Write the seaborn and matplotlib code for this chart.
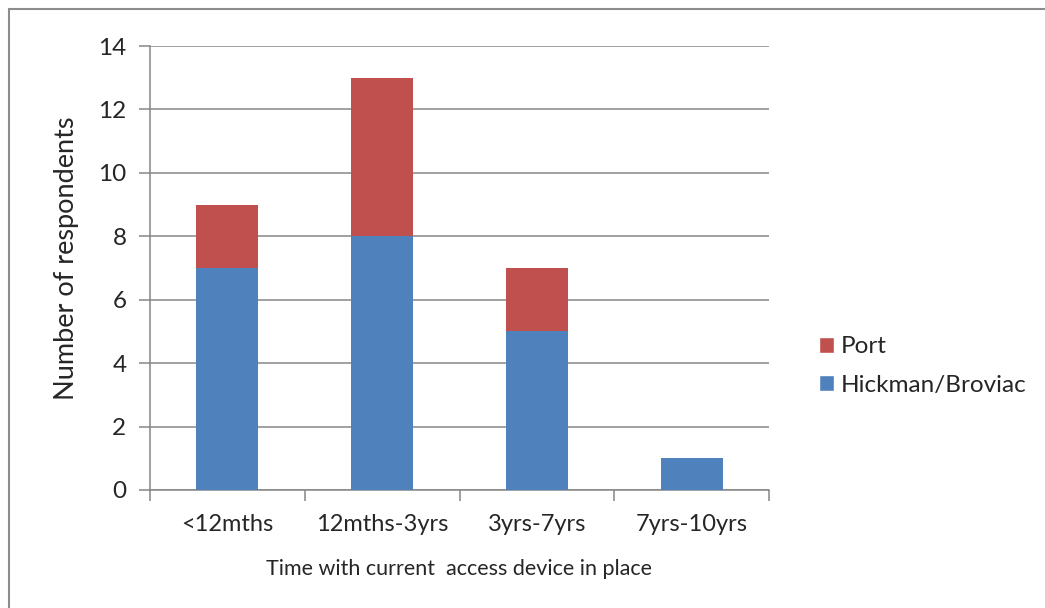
import matplotlib
matplotlib.use("Agg")
import matplotlib.pyplot as plt
from matplotlib.lines import Line2D
from matplotlib.patches import Patch
import seaborn as sns
import pandas as pd

categories = ["<12mths", "12mths-3yrs", "3yrs-7yrs", "7yrs-10yrs"]
hickman = [7, 8, 5, 1]
port = [2, 5, 2, 0]
y_ticks = [0, 2, 4, 6, 8, 10, 12, 14]

BLUE = "#4F81BD"
RED = "#C0504D"
GRID = "#868686"

sns.set_style("white")
plt.rcParams["font.family"] = ["Lato", "DejaVu Sans"]

df = pd.DataFrame({
    "category": categories,
    "Hickman/Broviac": hickman,
    "Port": port,
})
df["total"] = df["Hickman/Broviac"] + df["Port"]

fig = plt.figure(figsize=(10.45, 6.08), dpi=100)
ax = fig.add_axes([150 / 1045, 1 - 490 / 608, (769 - 150) / 1045, (490 - 46) / 608])

# stacked bars: full height in the top segment colour, lower segment drawn over it
sns.barplot(data=df, x="category", y="total", color=RED, width=0.4,
            saturation=1, linewidth=0, ax=ax, zorder=3)
sns.barplot(data=df, x="category", y="Hickman/Broviac", color=BLUE, width=0.4,
            saturation=1, linewidth=0, ax=ax, zorder=4)

ax.set_xlim(-0.5, len(categories) - 0.5)
ax.set_ylim(0, 14)
ax.set_yticks(y_ticks)
ax.yaxis.grid(True, color=GRID, linewidth=1.1, zorder=0)
ax.set_axisbelow(True)

for side in ("top", "right"):
    ax.spines[side].set_visible(False)
for side in ("left", "bottom"):
    ax.spines[side].set_color(GRID)
    ax.spines[side].set_linewidth(1.1)

ax.tick_params(axis="y", length=8, width=1.1, color=GRID, direction="out",
               labelsize=17.5, pad=9, left=True)
ax.set_xticks(range(len(categories)))
ax.set_xticklabels(categories)
ax.tick_params(axis="x", which="major", length=0, labelsize=17, pad=17)
ax.set_xticks([i - 0.5 for i in range(len(categories) + 1)], minor=True)
ax.tick_params(axis="x", which="minor", length=8, width=1.1, color=GRID,
               direction="out", bottom=True)

ax.set_xlabel("Time with current  access device in place", fontsize=15.5, va="center")
ax.xaxis.set_label_coords(0.5, (490 - 569) / 444)
ax.set_ylabel("Number of respondents", fontsize=19.5, va="center")
ax.yaxis.set_label_coords((67 - 150) / 619, (490 - 258) / 444)

handles = [Patch(facecolor=RED, label="Port"),
           Patch(facecolor=BLUE, label="Hickman/Broviac")]
fig.legend(handles=handles, loc="center left", bbox_to_anchor=(797 / 1045, 1 - 366 / 608),
           frameon=False, fontsize=17.5, handlelength=0.62, handleheight=0.62,
           handletextpad=0.3, labelspacing=0.7)

# outer frame along the top and left edges
fig.add_artist(Line2D([9 / 1045, 1], [1 - 9 / 608, 1 - 9 / 608], transform=fig.transFigure,
                      color="#8C8C8C", linewidth=1.5))
fig.add_artist(Line2D([9 / 1045, 9 / 1045], [0, 1 - 9 / 608], transform=fig.transFigure,
                      color="#8C8C8C", linewidth=1.5))

fig.savefig("out.png", dpi=100, facecolor="white")
